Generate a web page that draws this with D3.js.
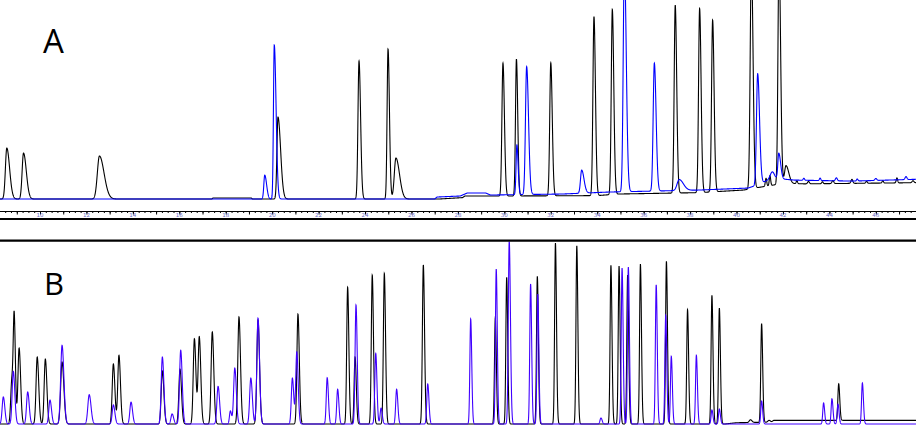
<!DOCTYPE html>
<html><head><meta charset="utf-8">
<script src="https://cdn.jsdelivr.net/npm/d3@7"></script>
<style>body{margin:0;background:#fff}svg{display:block}</style>
</head><body>
<svg id="c" width="916" height="433"></svg>
<script>
// ---- retention-time axis (minutes) ----
const timeDomain = [8.277, 47.73];
const axisLabels = [10,12,14,16,18,20,22,24,26,28,30,32,34,36,38,40,42,44,46];

// ---- Panel A, black trace: peaks ----
const aBlackTime   = [8.57, 9.29, 12.56, 20.25, 23.74, 24.99, 25.33, 29.94, 30.52, 32.00, 33.86, 34.65, 37.36, 38.41, 38.97, 40.64, 41.27, 41.44, 41.83, 42.13, 42.60, 43.10, 43.70, 44.15, 44.97, 45.60, 46.30, 46.91, 47.60];
const aBlackHeight = [25.6, 23.1, 21.6, 41.2, 69.3, 75.4, 20.6, 66.8, 68.8, 66.8, 90.0, 93.0, 94.5, 92.5, 86.4, 115, 4, 5, 115, 9, 1.5, 1.2, 1, 1.5, 2, 1, 1.2, 2.5, 1];
const aBlackWidth  = [0.06, 0.06, 0.09, 0.045, 0.045, 0.04, 0.07, 0.045, 0.04, 0.045, 0.045, 0.045, 0.045, 0.045, 0.045, 0.05, 0.03, 0.03, 0.045, 0.06, 0.03, 0.04, 0.03, 0.04, 0.04, 0.03, 0.03, 0.03, 0.04];
const aBlackTail   = [2, 2, 2.2, 2.5, 1.5, 1.5, 2.2, 1.4, 1.4, 1.4, 1.4, 1.4, 1.4, 1.4, 1.4, 1.4, 1, 1, 1.5, 2, 1, 1, 1, 1, 1, 1, 1, 1, 1];
const aBlackBaseT  = [8.277, 17.40, 17.45, 19.10, 19.15, 27.2, 28.2, 28.3, 29.9, 34.0, 34.9, 38.4, 40.3, 41.0, 42.0, 43.0, 47.73];
const aBlackBaseV  = [0, 0, 0.5, 0.5, 0, 0, 0.7, 1.5, 1.5, 1.7, 2.5, 3.2, 4.5, 5.9, 7.8, 7.6, 8.2];

// ---- Panel A, blue trace: peaks ----
const aBlueTime   = [19.68, 20.09, 30.54, 30.96, 33.33, 35.17, 36.46, 37.53, 40.91, 41.53, 41.82, 42.90, 43.60, 44.30, 45.20, 46.00, 47.30];
const aBlueHeight = [12, 77.4, 25, 64.3, 11.6, 115, 64.3, 5.5, 55.8, 3, 12.6, 1, 1.2, 1.5, 1, 1, 1.5];
const aBlueWidth  = [0.04, 0.035, 0.035, 0.05, 0.05, 0.05, 0.05, 0.09, 0.05, 0.08, 0.04, 0.03, 0.03, 0.04, 0.03, 0.04, 0.04];
const aBlueTail   = [2, 2.2, 1.5, 1.6, 2, 1.6, 1.5, 2, 1.6, 1, 2, 1, 1, 1, 1, 1, 1];
const aBlueBaseT  = [8.277, 27.0, 27.1, 28.1, 28.4, 29.2, 29.4, 32.5, 34.5, 36.5, 38.4, 40.5, 41.0, 41.6, 42.0, 42.5, 45.0, 47.73];
const aBlueBaseV  = [0, 0, 1, 1.5, 3, 3, 2, 2.5, 3.5, 4, 4.5, 5.5, 7.5, 11, 10, 9.5, 9, 9.9];

// ---- Panel B, black trace: peaks ----
const bBlackTime   = [8.79, 8.89, 9.10, 9.88, 10.23, 10.95, 13.16, 13.40, 15.27, 16.03, 16.65, 16.86, 17.42, 18.57, 19.39, 21.11, 23.25, 23.57, 24.31, 24.83, 26.51, 29.61, 30.10, 31.42, 32.20, 33.12, 34.59, 34.94, 35.31, 35.86, 36.98, 37.89, 38.94, 39.26, 40.60, 41.08, 41.40, 44.40];
const bBlackHeight = [24, 54, 41.5, 36.6, 35.5, 33.9, 32.8, 37.5, 29, 30, 46.6, 47.5, 50.3, 58.5, 56.8, 60.1, 74.7, 36.6, 81.4, 82.3, 86.9, 57.9, 80.2, 80.7, 98.9, 97.4, 86.7, 86.3, 81.4, 87.4, 88.9, 62.5, 70.3, 63.4, 1.5, 53.9, 1, 20];
const bBlackWidth  = [0.05, 0.04, 0.05, 0.05, 0.05, 0.06, 0.05, 0.05, 0.05, 0.05, 0.05, 0.05, 0.05, 0.05, 0.05, 0.045, 0.04, 0.04, 0.04, 0.04, 0.04, 0.035, 0.035, 0.035, 0.035, 0.035, 0.035, 0.035, 0.035, 0.035, 0.035, 0.035, 0.035, 0.035, 0.05, 0.035, 0.05, 0.035];
const bBlackBaseT  = [8.277, 39.5, 40.0, 41.5, 41.6, 47.73];
const bBlackBaseV  = [0, 0, 0.7, 1, 2, 2];

// ---- Panel B, blue trace: peaks ----
const bBlueTime   = [8.42, 8.85, 9.47, 10.43, 10.95, 12.12, 13.16, 13.92, 15.27, 15.69, 16.06, 17.67, 18.20, 18.39, 19.08, 19.39, 20.87, 21.06, 22.37, 22.82, 23.61, 24.46, 24.69, 25.36, 26.70, 28.55, 29.65, 30.21, 31.13, 31.44, 34.16, 35.07, 35.34, 36.54, 36.95, 37.19, 38.27, 38.94, 39.26, 41.08, 43.75, 44.11, 44.37, 45.42];
const bBlueHeight = [14.8, 28.8, 17.5, 13.1, 43.0, 16.0, 10.4, 12.0, 36.6, 5.5, 40.3, 20.6, 7.1, 30.6, 25.1, 57.9, 25.1, 39.3, 25.3, 19.0, 65.0, 38.6, 8.7, 19.0, 21.9, 57.4, 84.7, 100, 76.5, 71.0, 3.3, 85.2, 85.8, 76.1, 59.4, 37.0, 37.5, 7.7, 8.2, 12.6, 11.5, 13.8, 10.9, 22.4];
const bBlueWidth  = [0.05, 0.05, 0.05, 0.05, 0.06, 0.06, 0.05, 0.05, 0.05, 0.05, 0.05, 0.05, 0.04, 0.05, 0.05, 0.05, 0.045, 0.045, 0.04, 0.04, 0.04, 0.04, 0.04, 0.04, 0.04, 0.035, 0.035, 0.04, 0.035, 0.035, 0.04, 0.035, 0.035, 0.035, 0.035, 0.035, 0.035, 0.035, 0.035, 0.035, 0.035, 0.035, 0.035, 0.035];

const W = 916, H = 433;
const svg = d3.select('#c');

const x = d3.scaleLinear().domain(timeDomain).range([0, W]);
const yA = d3.scaleLinear().domain([0, 100]).range([199, 0]);
const yB = d3.scaleLinear().domain([0, 100]).range([424, 241]);

function buildTrace(times, heights, widths, tails, baseT, baseV) {
  const base = d3.scaleLinear().domain(baseT).range(baseV).clamp(true);
  const pts = [];
  const step = 0.004;
  for (let t = timeDomain[0]; t <= timeDomain[1] + 1e-9; t += step) {
    let v = base(t);
    for (let i = 0; i < times.length; i++) {
      const d = t - times[i];
      const s = d < 0 ? widths[i] : widths[i] * (tails ? tails[i] : 1.3);
      if (Math.abs(d) < 8 * s) v += heights[i] * Math.exp(-0.5 * (d / s) * (d / s));
    }
    pts.push([t, v]);
  }
  return pts;
}

const defs = svg.append('defs');
defs.append('clipPath').attr('id', 'clipA').append('rect').attr('x', 0).attr('y', 0).attr('width', W).attr('height', 205);
defs.append('clipPath').attr('id', 'clipB').append('rect').attr('x', 0).attr('y', 241.5).attr('width', W).attr('height', 190);

const gA = svg.append('g').attr('clip-path', 'url(#clipA)');
const gB = svg.append('g').attr('clip-path', 'url(#clipB)');

const lineA = d3.line().x(d => x(d[0])).y(d => yA(d[1]));
const lineB = d3.line().x(d => x(d[0])).y(d => yB(d[1]));

gA.append('path').attr('d', lineA(buildTrace(aBlackTime, aBlackHeight, aBlackWidth, aBlackTail, aBlackBaseT, aBlackBaseV)))
  .attr('fill', 'none').attr('stroke', '#000').attr('stroke-width', 1.1);
gA.append('path').attr('d', lineA(buildTrace(aBlueTime, aBlueHeight, aBlueWidth, aBlueTail, aBlueBaseT, aBlueBaseV)))
  .attr('fill', 'none').attr('stroke', '#0000ff').attr('stroke-width', 1.1);

gB.append('path').attr('d', lineB(buildTrace(bBlackTime, bBlackHeight, bBlackWidth, null, bBlackBaseT, bBlackBaseV)))
  .attr('fill', 'none').attr('stroke', '#000').attr('stroke-width', 1.1);
gB.append('path').attr('d', lineB(buildTrace(bBlueTime, bBlueHeight, bBlueWidth, null, [timeDomain[0], timeDomain[1]], [0, 0])))
  .attr('fill', 'none').attr('stroke', '#4000ff').attr('stroke-width', 1.1);

// ---- time axis of panel A ----
const axisY = 211;
const minor = svg.append('g').attr('transform', `translate(0,${axisY})`)
  .call(d3.axisBottom(x).tickValues(d3.range(8.5, 47.6, 0.25)).tickSize(2).tickFormat(''));
const major = svg.append('g').attr('transform', `translate(0,${axisY})`)
  .call(d3.axisBottom(x).tickValues(d3.range(9, 48, 1)).tickSize(3.5).tickFormat(''));
[minor, major].forEach(g => {
  g.select('.domain').remove();
  g.selectAll('line').attr('stroke', '#000').attr('stroke-width', 1);
});
svg.append('g').selectAll('text').data(axisLabels).join('text')
  .attr('x', d => x(d)).attr('y', 217.2).attr('text-anchor', 'middle')
  .attr('font-family', 'DejaVu Sans, sans-serif').attr('font-size', 5.5).attr('fill', '#7070c8')
  .text(d => d);
svg.append('line').attr('x1', 0).attr('x2', W).attr('y1', axisY + 0.5).attr('y2', axisY + 0.5).attr('stroke', '#000').attr('stroke-width', 1);

// ---- separator rules ----
svg.append('line').attr('x1', 0).attr('x2', W).attr('y1', 219).attr('y2', 219).attr('stroke', '#000').attr('stroke-width', 2);
svg.append('line').attr('x1', 0).attr('x2', W).attr('y1', 240.7).attr('y2', 240.7).attr('stroke', '#000').attr('stroke-width', 2.2);

// ---- panel letters ----
svg.append('text').attr('x', 43).attr('y', 53).text('A')
  .attr('font-family', 'Open Sans, Liberation Sans, sans-serif').attr('font-size', 33).attr('fill', '#000');
svg.append('text').attr('x', 44).attr('y', 295).text('B')
  .attr('font-family', 'Open Sans, Liberation Sans, sans-serif').attr('font-size', 31).attr('fill', '#000');
</script>
</body></html>
